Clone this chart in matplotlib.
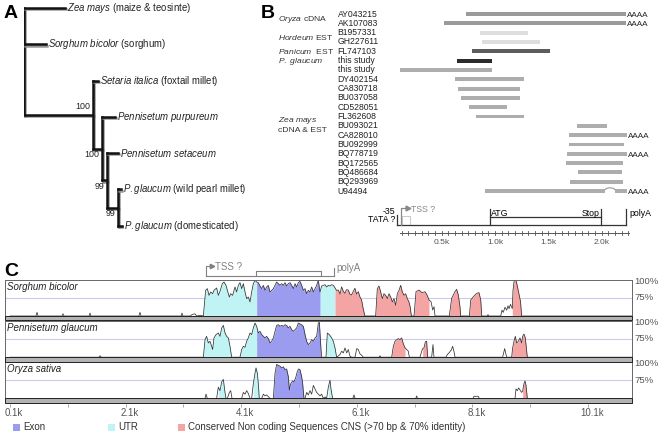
import numpy as np
import matplotlib
matplotlib.use("Agg")
from matplotlib import pyplot as plt
from matplotlib import transforms as mtrans
from matplotlib import patheffects as pe
from matplotlib.patches import Rectangle, Arc

plt.rcParams["font.family"] = ["Liberation Sans", "DejaVu Sans"]
plt.rcParams["mathtext.fontset"] = "custom"
plt.rcParams["mathtext.rm"] = "Liberation Sans"
plt.rcParams["mathtext.it"] = "Liberation Sans:italic"

W, H = 661, 437

# ---------------- A: tree ----------------
leaf_labels = [r"$\it{Zea\ mays}$ (maize & teosinte)",
               r"$\it{Sorghum\ bicolor}$ (sorghum)",
               r"$\it{Setaria\ italica}$ (foxtail millet)",
               r"$\it{Pennisetum\ purpureum}$",
               r"$\it{Pennisetum\ setaceum}$",
               r"$\it{P.glaucum}$ (wild pearl millet)",
               r"$\it{P.glaucum}$ (domesticated)"]
leaf_depth = [0.41, 0.22, 0.74, 0.91, 0.94, 0.97, 0.98]
node_depth = {"root": 0.0, "n1": 0.69, "n2": 0.78, "n3": 0.83, "n4": 0.94}
node_children = {"root": [0, 1, "n1"], "n1": [2, "n2"], "n2": [3, "n3"],
                 "n3": [4, "n4"], "n4": [5, 6]}
bootstrap = {"n1": "100", "n2": "100", "n3": "99", "n4": "99"}

# ---------------- B: transcripts ----------------
acc_names = ["AY043215", "AK107083", "B1957331", "GH227611", "FL747103", "this study",
             "this study", "DY402154", "CA830718", "BU037058", "CD528051", "FL362608",
             "BU093021", "CA828010", "BU092999", "BQ778719", "BQ172565", "BQ486684",
             "BQ293969", "U94494"]
acc_start = [727, 521, 858, 877, 784, 643, 109, 624, 652, 680, 755, 821,
             1768, 1693, 1693, 1674, 1665, 1777, 1702, 905]
acc_end = [2227, 2227, 1308, 1421, 1515, 971, 971, 1271, 1233, 1233, 1112, 1271,
           2049, 2237, 2208, 2237, 2199, 2190, 2199, 2237]
acc_polya = [1, 1, 0, 0, 0, 0, 0, 0, 0, 0, 0, 0, 0, 1, 0, 1, 0, 0, 0, 1]
acc_color = ["#9a9a9a", "#9a9a9a", "#dedede", "#dedede", "#5c5c5c", "#2b2b2b"] + ["#adadad"] * 14
u94494_intron = (2030, 2124)
groups = [(r"$\it{Oryza}$ cDNA", 0.54, (0, 1)),
          (r"$\it{Hordeum}$ EST", 2.47, (2, 3)),
          (r"$\it{Panicum}$  EST", 4.0, None),
          (r"$\it{P.\ glaucum}$", 5.08, None),
          (r"$\it{Zea\ mays}$", 11.48, (6, 19)),
          ("cDNA & EST", 12.45, None)]
gene_b = {"tata": 80, "tss": 120, "atg": 950, "stop": 1990, "polya": 2230}
b_ticks_lab = [500, 1000, 1500, 2000]
b_ticks_txt = ["0.5k", "1.0k", "1.5k", "2.0k"]

# ---------------- C: conservation (kb, % identity) ----------------
sorghum_profile = [
    (0.10, 50), (0.55, 50), (0.567, 55), (0.585, 50), (1.00, 50), (1.017, 53), (1.035, 50),
    (1.47, 50), (1.484, 54), (1.50, 50), (2.33, 50), (2.349, 55), (2.365, 50), (3.06, 50),
    (3.076, 54), (3.09, 50), (3.22, 50), (3.25, 52), (3.30, 53), (3.33, 50), (3.40, 51),
    (3.445, 50), (3.485, 85.2), (3.514, 87.5), (3.543, 78.3), (3.572, 82.9), (3.606, 80.6),
    (3.629, 85.2), (3.675, 88.4), (3.704, 78.3), (3.733, 83.8), (3.773, 94.3), (3.802, 96.6),
    (3.837, 92), (3.860, 85.2), (3.895, 76), (3.918, 80.6), (3.952, 78.3), (3.993, 89.8),
    (4.021, 82.9), (4.050, 92), (4.079, 95.7), (4.108, 87.5), (4.137, 94.3), (4.166, 82.9),
    (4.194, 73.8), (4.223, 76), (4.252, 69.2), (4.281, 82.9), (4.310, 94.3), (4.339, 98.9),
    (4.367, 96.6), (4.396, 95.7), (4.425, 91.1), (4.454, 87.5), (4.483, 92), (4.512, 85.2),
    (4.540, 89.8), (4.569, 92), (4.598, 82.9), (4.627, 85.2), (4.656, 87.5), (4.685, 92),
    (4.713, 96.6), (4.742, 94.3), (4.771, 92), (4.800, 94.3), (4.829, 92), (4.858, 95.7),
    (4.886, 91.1), (4.915, 94.3), (4.944, 95.7), (4.973, 92), (5.002, 87.5), (5.031, 94.3),
    (5.059, 89.8), (5.088, 95.7), (5.117, 97.5), (5.146, 92), (5.175, 85.2), (5.204, 87.5),
    (5.232, 80.6), (5.261, 85.2), (5.290, 82.9), (5.319, 89.8), (5.348, 82.9), (5.377, 87.5),
    (5.405, 92), (5.434, 98.9), (5.463, 82.9), (5.492, 91.1), (5.521, 92), (5.550, 92.9),
    (5.578, 89.8), (5.607, 92), (5.636, 91.1), (5.665, 92.9), (5.694, 92), (5.723, 88.4),
    (5.751, 85), (5.78, 85.6), (5.81, 80), (5.837, 90), (5.865, 84), (5.894, 81), (5.92, 86),
    (5.952, 85.6), (5.98, 80), (6.01, 78.8), (6.04, 84), (6.067, 88), (6.095, 80),
    (6.125, 83.3), (6.155, 76), (6.183, 72), (6.21, 60), (6.24, 50),
    (6.426, 50), (6.455, 87.5), (6.484, 91.1), (6.513, 82.9), (6.542, 73.8), (6.570, 80.6),
    (6.599, 78.3), (6.628, 73.8), (6.657, 80.6), (6.686, 76), (6.715, 69.2), (6.743, 73.8),
    (6.772, 64.6), (6.801, 80.6), (6.830, 85.2), (6.859, 92), (6.888, 82.9), (6.917, 78.3),
    (6.945, 80.6), (6.974, 73.8), (7.003, 69.2), (7.025, 62), (7.035, 55), (7.045, 50),
    (7.09, 50), (7.124, 83.3), (7.176, 85.6), (7.228, 82), (7.28, 83.3), (7.315, 78.8),
    (7.349, 72), (7.384, 69.6), (7.413, 58.2), (7.436, 62.7), (7.453, 50),
    (7.70, 50), (7.741, 74.2), (7.798, 83.3), (7.827, 86.6), (7.856, 78.8), (7.885, 62.7),
    (7.897, 50), (8.047, 50), (8.071, 71.9), (8.116, 76.4), (8.175, 81.1), (8.214, 82),
    (8.244, 71.9), (8.261, 50), (8.36, 50), (8.37, 52), (8.38, 50),
    (8.59, 50), (8.612, 58), (8.634, 55), (8.664, 62), (8.693, 58), (8.716, 64), (8.733, 60),
    (8.759, 66), (8.78, 62), (8.79, 60), (8.802, 85), (8.825, 100), (8.854, 99), (8.880, 90),
    (8.906, 80), (8.932, 70), (8.952, 50), (10.86, 50)]
sorghum_utr = [(3.445, 4.367), (5.463, 5.723)]
sorghum_exon = [(4.367, 5.463)]
sorghum_cns = [(5.723, 6.24), (6.426, 7.045), (7.09, 7.349), (7.70, 7.897),
               (8.047, 8.261), (8.79, 8.952)]

glaucum_profile = [
    (0.10, 50), (1.64, 50), (1.66, 52), (1.68, 50),
    (3.445, 50), (3.474, 74.1), (3.502, 78.6), (3.531, 69.5), (3.560, 71.8), (3.589, 65),
    (3.606, 60.5), (3.629, 76.4), (3.664, 80.9), (3.704, 83.2), (3.733, 78.6), (3.762, 90),
    (3.791, 93.6), (3.820, 83.2), (3.848, 78.6), (3.877, 76.4), (3.906, 65), (3.935, 50),
    (4.079, 50), (4.108, 60.5), (4.137, 65), (4.166, 63.6), (4.194, 71.8), (4.223, 76.4),
    (4.252, 83.2), (4.281, 80.9), (4.310, 90), (4.339, 96.8), (4.367, 92.3),
    (4.396, 83.2), (4.425, 85.5), (4.454, 81), (4.483, 78.6), (4.512, 76.4), (4.540, 78.6),
    (4.569, 75.5), (4.598, 69.5), (4.627, 71.8), (4.656, 76.4), (4.685, 85.5), (4.713, 93.6),
    (4.742, 94.5), (4.771, 92.3), (4.800, 93.6), (4.829, 92.3), (4.858, 94.5), (4.886, 93.6),
    (4.915, 90), (4.944, 92.3), (4.973, 87.7), (5.002, 85.5), (5.031, 87.7), (5.059, 90),
    (5.088, 96.8), (5.117, 95.5), (5.146, 94.5), (5.175, 92.3), (5.204, 81), (5.232, 71.8),
    (5.261, 67.3), (5.290, 69.5), (5.319, 74.1), (5.348, 71.8), (5.377, 76.4), (5.405, 78.6),
    (5.434, 96.8), (5.452, 98), (5.475, 67.3), (5.492, 50),
    (5.567, 50), (5.590, 83.2), (5.625, 80.9), (5.665, 76.4), (5.694, 71.8), (5.723, 62.7),
    (5.751, 50), (5.809, 53.6), (5.838, 58.2), (5.867, 55.9), (5.896, 62.7), (5.925, 55.9),
    (5.953, 60.5), (5.982, 51.4), (6.011, 50), (6.069, 50), (6.098, 61.8), (6.126, 60.5),
    (6.155, 54.5), (6.184, 52.7), (6.213, 50), (6.49, 50), (6.501, 52), (6.515, 50),
    (6.703, 50), (6.732, 65), (6.761, 71.8), (6.790, 74.1), (6.818, 75.5), (6.847, 74.1),
    (6.876, 76.4), (6.905, 68.2), (6.934, 63), (6.963, 60.5), (6.991, 58.2), (7.009, 50),
    (7.193, 50), (7.222, 58), (7.239, 62), (7.262, 62.7), (7.285, 70.9), (7.308, 71.8),
    (7.326, 50), (7.395, 50), (7.418, 67.3), (7.435, 50),
    (7.643, 50), (7.666, 53.6), (7.700, 56.4), (7.735, 60), (7.758, 65), (7.781, 58),
    (7.799, 50), (8.623, 50), (8.658, 61.8), (8.692, 50),
    (8.779, 50), (8.796, 62.7), (8.819, 71.8), (8.842, 78.6), (8.865, 69.5), (8.894, 71.8),
    (8.923, 76.4), (8.952, 69.5), (8.969, 78.6), (8.992, 81.8), (9.015, 76.4), (9.038, 58.2),
    (9.050, 50), (10.86, 50)]
glaucum_utr = [(3.445, 3.935), (4.079, 4.367), (5.567, 5.751)]
glaucum_exon = [(4.367, 5.475)]
glaucum_cns = [(6.703, 6.934), (7.239, 7.326), (8.779, 9.050)]

oryza_profile = [
    (0.10, 50), (3.474, 50), (3.491, 55.8), (3.514, 50),
    (3.675, 50), (3.704, 65.4), (3.733, 60.6), (3.762, 72.6), (3.791, 76), (3.820, 58.2),
    (3.837, 50), (3.860, 50), (3.895, 58.2), (3.918, 60.6), (3.941, 50),
    (4.108, 50), (4.137, 58.2), (4.166, 55.8), (4.194, 60.6), (4.223, 56.8), (4.252, 50),
    (4.281, 50), (4.310, 70.2), (4.339, 84.6), (4.356, 91.8), (4.379, 84.6), (4.396, 70.2),
    (4.413, 50), (4.454, 50), (4.483, 55.8), (4.512, 53.4), (4.540, 54.8), (4.598, 50),
    (4.656, 50), (4.685, 84.6), (4.713, 96.6), (4.742, 95.2), (4.771, 94.2), (4.800, 91.8),
    (4.829, 93.3), (4.858, 89.4), (4.886, 90.4), (4.915, 79.8), (4.933, 61.5), (4.956, 70.2),
    (4.990, 74), (5.013, 72.6), (5.048, 79.8), (5.071, 87), (5.094, 90.4), (5.117, 89.4),
    (5.146, 79.8), (5.163, 70.2), (5.186, 50),
    (5.204, 50), (5.232, 58.2), (5.261, 54.8), (5.290, 60.6), (5.319, 55.8), (5.348, 67.8),
    (5.377, 63), (5.405, 58.2), (5.434, 55.8), (5.463, 53.4), (5.492, 55.8), (5.521, 50),
    (5.550, 52), (5.578, 50), (5.607, 65.4), (5.636, 75), (5.653, 63), (5.682, 50),
    (6.03, 50), (6.051, 54.8), (6.07, 50), (7.12, 50), (7.136, 53.4), (7.15, 50),
    (8.11, 50), (8.127, 52.9), (8.202, 52.9), (8.22, 50),
    (8.837, 50), (8.854, 63), (8.877, 60.6), (8.900, 64.4), (8.923, 61.5), (8.952, 58.2),
    (8.969, 60), (8.992, 70.2), (9.010, 74), (9.027, 67.8), (9.050, 50), (10.86, 50)]
oryza_utr = [(3.70, 3.837), (4.30, 4.413), (5.59, 5.682)]
oryza_exon = [(4.656, 5.186)]
oryza_cns = [(8.969, 9.050)]

tracks = [("Sorghum bicolor", sorghum_profile, sorghum_utr, sorghum_exon, sorghum_cns),
          ("Pennisetum glaucum", glaucum_profile, glaucum_utr, glaucum_exon, glaucum_cns),
          ("Oryza sativa", oryza_profile, oryza_utr, oryza_exon, oryza_cns)]
gene_c = {"tss": 3.49, "exon_start": 4.36, "exon_end": 5.48, "polya": 5.70}
c_ticks = [0.1, 1.1, 2.1, 3.1, 4.1, 5.1, 6.1, 7.1, 8.1, 9.1, 10.1]
c_labels = {0.1: "0.1k", 2.1: "2.1k", 4.1: "4.1k", 6.1: "6.1k", 8.1: "8.1k", 10.1: "10.1k"}

UTR_C, EXON_C, CNS_C = "#c0f4f4", "#9b9bf0", "#f5a4a4"


def px_axes(x0, y0, x1, y1, **kw):
    return fig.add_axes([x0 / W, 1 - y1 / H, (x1 - x0) / W, (y1 - y0) / H], **kw)


fig = plt.figure(figsize=(W / 100, H / 100), dpi=100)
ov = px_axes(0, 0, W, H, zorder=10)
ov.set_xlim(0, W)
ov.set_ylim(H, 0)
ov.axis("off")
ov.patch.set_alpha(0)

for lab, x, y in (("A", 4, 14), ("B", 261, 14), ("C", 4, 271)):
    ov.text(x, y, lab, fontsize=14, fontweight="bold", va="center", ha="left")

# ---- A ----
ax_a = px_axes(24, 0, 124, 237)
ax_a.set_xlim(0, 1)
ax_a.set_ylim(6.31, -0.22)
ax_a.axis("off")
shadow = [pe.SimpleLineShadow(offset=(0.9, -0.9), shadow_color="#8c8c8c", alpha=0.9), pe.Normal()]


def node_y(n):
    if isinstance(n, int):
        return n
    ch = node_children[n]
    return (node_y(ch[0]) + node_y(ch[-1])) / 2


def depth(n):
    return leaf_depth[n] if isinstance(n, int) else node_depth[n]


for n, ch in node_children.items():
    ys = [node_y(c) for c in ch]
    ax_a.plot([node_depth[n]] * 2, [min(ys), max(ys)], color="#111", lw=1.8,
              solid_capstyle="projecting", path_effects=shadow)
    for c, yc in zip(ch, ys):
        ax_a.plot([node_depth[n], depth(c)], [yc, yc], color="#111", lw=1.8,
                  solid_capstyle="projecting", path_effects=shadow)
for i, lab in enumerate(leaf_labels):
    ax_a.text(leaf_depth[i] + 0.02, i, lab, fontsize=6.9, va="center", ha="left", color="#222")
for n, b in bootstrap.items():
    dy = -0.21 if n == "n1" else 0.17
    ax_a.text(node_depth[n] - 0.025, node_y(n) + dy, b, fontsize=6.4, ha="right", va="center",
              color="#222")

# ---- B ----
row0, row_px = 14, 9.32
px_per_bp = 0.1067
ax_b = px_axes(388.4, 5, 640, 250)
ax_b.set_xlim(0, (640 - 388.4) / px_per_bp)
ax_b.set_ylim((250 - row0) / row_px, (5 - row0) / row_px)
ax_b.axis("off")
rows = np.arange(len(acc_names))
pxrow = mtrans.blended_transform_factory(ov.transData, ax_b.transData)
bppx = mtrans.blended_transform_factory(ax_b.transData, ov.transData)

for i in rows:
    if acc_names[i] == "U94494":
        ax_b.barh(i, u94494_intron[0] - acc_start[i], left=acc_start[i], height=0.42,
                  color=acc_color[i], lw=0)
        ax_b.barh(i, acc_end[i] - u94494_intron[1], left=u94494_intron[1], height=0.42,
                  color=acc_color[i], lw=0)
        ax_b.add_patch(Arc(((u94494_intron[0] + u94494_intron[1]) / 2, i - 0.1),
                           u94494_intron[1] - u94494_intron[0], 0.5, theta1=180, theta2=360,
                           color="#999", lw=0.8))
    else:
        ax_b.barh(i, acc_end[i] - acc_start[i], left=acc_start[i], height=0.42,
                  color=acc_color[i], lw=0)
    if acc_polya[i]:
        ax_b.text(acc_end[i] + 8, i + 0.15, "AAAA", fontsize=5.9, va="center", ha="left",
                  color="#222")
    ax_b.text(337.5, i, acc_names[i], transform=pxrow, fontsize=6.2, va="center", ha="left",
              color="#222")

for lab, yr, br in groups:
    ax_b.text(278.5, yr, lab, transform=pxrow, fontsize=6.1, va="center", ha="left", color="#333")
    if br is not None:
        ax_b.plot([336, 336], [br[0] - 0.45, br[1] + 0.45], transform=pxrow, color="#444", lw=0.8)

g = gene_b
kw = dict(transform=bppx, lw=0.9, color="#333")
ax_b.plot([g["tata"], g["polya"]], [225, 225], **kw)
ax_b.plot([g["tata"]] * 2, [215, 225], **kw)
ax_b.plot([g["atg"]] * 2, [209, 225], **kw)
ax_b.plot([g["stop"]] * 2, [209, 225], **kw)
ax_b.plot([g["polya"]] * 2, [209, 225], **kw)
ax_b.plot([g["atg"], g["stop"]], [217, 217], **kw)
ax_b.plot([g["tss"], g["tss"], g["tss"] + 55], [225, 208, 208], transform=bppx, lw=0.9,
          color="#888")
ax_b.plot([g["tss"] + 65], [208], marker=">", ms=3.5, color="#888", transform=bppx)
ax_b.add_patch(Rectangle((g["tss"] + 12, 216), 70, 9, transform=bppx, fill=False,
                         ec="#c8c8c8", lw=0.7))
ax_b.text(g["tss"] + 90, 209, "TSS ?", transform=bppx, fontsize=6.3, color="#888", va="center")
ax_b.text(g["tata"] - 15, 211, "-35", transform=bppx, fontsize=6.3, ha="right", va="center")
ax_b.text(g["tata"] - 15, 220, "TATA ?", transform=bppx, fontsize=6.3, ha="right", va="center")
ax_b.text(g["atg"] + 12, 213, "ATG", transform=bppx, fontsize=6.3, ha="left", va="center")
ax_b.text(g["stop"] - 12, 213, "Stop", transform=bppx, fontsize=6.3, ha="right", va="center")
ax_b.text(g["polya"] + 25, 213, "polyA", transform=bppx, fontsize=6.3, ha="left", va="center")

# scale bar
ax_b.plot([110, 2255], [233, 233], transform=bppx, color="#555", lw=0.7)
for t in np.arange(125, 2255, 62.5):
    ax_b.plot([t, t], [231, 235], transform=bppx, color="#555", lw=0.6)
for t, s in zip(b_ticks_lab, b_ticks_txt):
    ax_b.text(t, 242, s, transform=bppx, fontsize=6, ha="center", va="center", color="#555")

# ---- C ----
track_top = [279.5, 320.7, 361.9]
track_base = [316, 357.2, 398.4]
c_xlim = (0.0135, 10.861)
c_axes = []
for k, (name, prof, utr, exon, cns) in enumerate(tracks):
    ax = px_axes(5, track_top[k], 632, track_base[k])
    ax.set_xlim(*c_xlim)
    ax.set_ylim(50, 100)
    ax.axhline(75, color="#cbcbef", lw=0.8, zorder=0)
    x = np.array([p[0] for p in prof])
    y = np.array([p[1] for p in prof])
    for regions, col in ((utr, UTR_C), (exon, EXON_C), (cns, CNS_C)):
        for a, b in regions:
            m = (x >= a - 1e-9) & (x <= b + 1e-9)
            ax.fill_between(x[m], 50, y[m], color=col, lw=0, zorder=1)
    ax.plot(x, y, color="#333", lw=0.55, zorder=2)
    ax.set_xticks([])
    ax.set_yticks([])
    for s in ax.spines.values():
        s.set_color("#666")
        s.set_linewidth(0.7)
    c_axes.append(ax)
    ov.add_patch(Rectangle((5, track_base[k]), 627, 4.3, fc="#b3b3b3", ec="#222", lw=0.7))
    ov.text(7, track_top[k] + 7.5, name, fontsize=7, style="italic", va="center", ha="left",
            color="#222")
    ov.text(634, track_top[k] + 2, "100%", fontsize=6.8, va="center", ha="left", color="#555")
    ov.text(634, (track_top[k] + track_base[k]) / 2, "75%", fontsize=6.8, va="center",
            ha="left", color="#555")

ax_cx = px_axes(5, 403, 632, 404)
ax_cx.set_xlim(*c_xlim)
ax_cx.set_yticks([])
ax_cx.set_xticks(c_ticks)
ax_cx.set_xticklabels([])
ax_cx.tick_params(axis="x", direction="out", length=2.5, width=0.6, color="#999")
for s in ax_cx.spines.values():
    s.set_visible(False)
ax_cx.patch.set_alpha(0)
kbpx = mtrans.blended_transform_factory(c_axes[0].transData, ov.transData)
shift = mtrans.ScaledTranslation(4 / 100, 0, fig.dpi_scale_trans)
for v, s in c_labels.items():
    ov.text(v, 413, s, transform=kbpx + shift, fontsize=7, ha="center", va="center", color="#555")

gc = gene_c
kwc = dict(transform=kbpx, color="#808080", lw=0.8)
ov.plot([gc["tss"], gc["polya"]], [276, 276], **kwc)
ov.plot([gc["tss"], gc["tss"], gc["tss"] + 0.08], [276, 266, 266], **kwc)
ov.plot([gc["tss"] + 0.1], [266], marker=">", ms=3.2, color="#808080", transform=kbpx)
ov.plot([gc["exon_start"], gc["exon_start"], gc["exon_end"], gc["exon_end"]],
        [276, 271, 271, 276], **kwc)
ov.plot([gc["polya"], gc["polya"]], [276, 268], **kwc)
ov.text(gc["tss"] + 0.16, 267.5, "TSS ?", transform=kbpx, fontsize=7, color="#808080",
        va="center", ha="left")
ov.text(gc["polya"] + 0.04, 268, "polyA", transform=kbpx, fontsize=7, color="#808080",
        va="center", ha="left")

# legend
for x0, col, txt in ((13, EXON_C, "Exon"), (108, UTR_C, "UTR"),
                     (178, CNS_C, "Conserved Non coding Sequences CNS (>70 bp & 70% identity)")):
    ov.add_patch(Rectangle((x0, 423.5), 7, 7, fc=col, ec="none"))
    ov.text(x0 + 10, 427.5, txt, fontsize=7, va="center", ha="left", color="#333")

fig.savefig("out.png", dpi=100)
